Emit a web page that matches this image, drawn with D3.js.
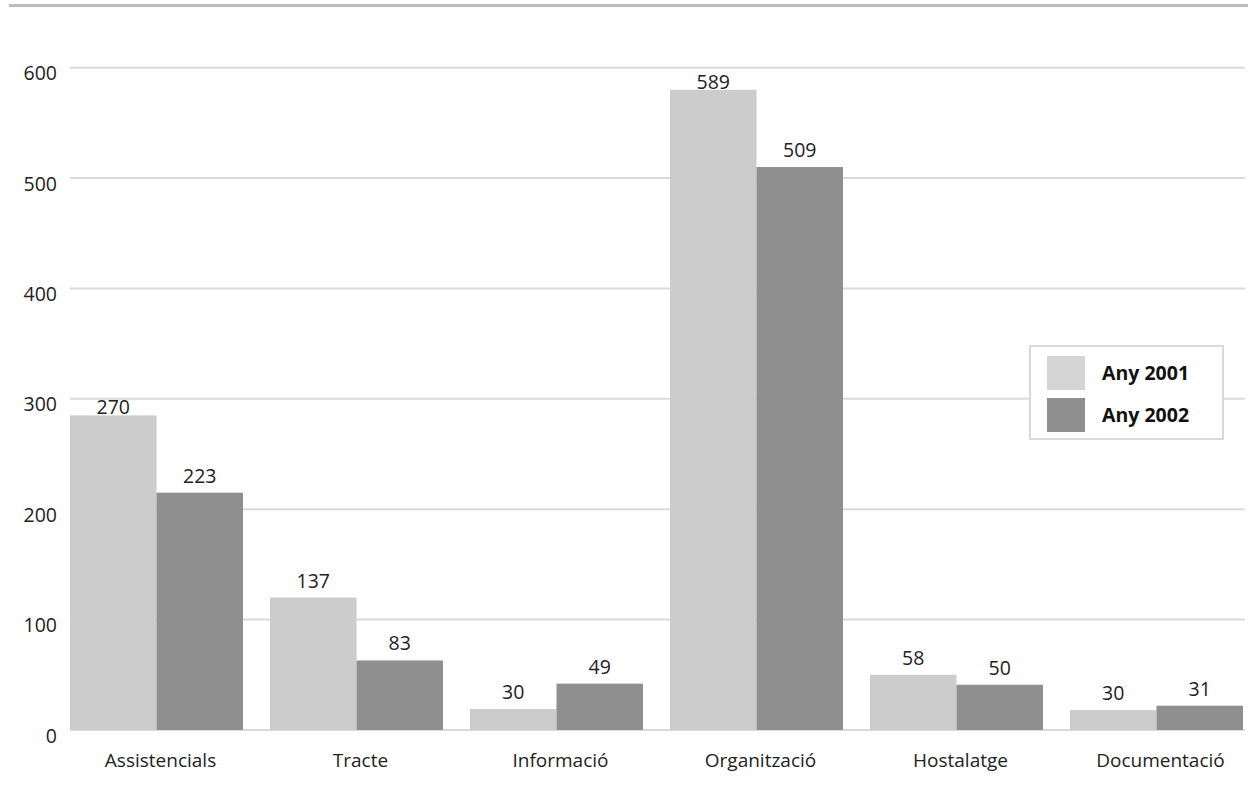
<!DOCTYPE html>
<html>
<head>
<meta charset="utf-8">
<script src="https://cdn.jsdelivr.net/npm/d3@7"></script>
<style>
  html, body { margin: 0; padding: 0; background: #fff; }
  svg { display: block; font-family: "Open Sans", "Noto Sans", sans-serif; }
</style>
</head>
<body>
<svg id="chart" width="1248" height="801"></svg>
<script>
// ---- data ----
const categories = ["Assistencials", "Tracte", "Informació", "Organització", "Hostalatge", "Documentació"];
const seriesNames = ["Any 2001", "Any 2002"];
// bar heights as drawn in the picture
const values2001 = [285, 120, 19, 580, 50, 18];
const values2002 = [215, 63, 42, 510, 41, 22];
// value labels printed above the bars
const labels2001 = ["270", "137", "30", "589", "58", "30"];
const labels2002 = ["223", "83", "49", "509", "50", "31"];
const yTicks = [0, 100, 200, 300, 400, 500, 600];

const colors = ["#cccccc", "#8f8f8f"];

const svg = d3.select("#chart");

const y = d3.scaleLinear().domain([0, 600]).range([730, 67.7]);
const x = d3.scaleBand().domain(categories).range([70, 1243]).paddingInner(0.135).paddingOuter(0);
const xs = d3.scaleBand().domain(seriesNames).range([0, x.bandwidth()]);

// top rule
svg.append("rect").attr("x", 9).attr("y", 4).attr("width", 1239).attr("height", 3).attr("fill", "#bdbdbd");

// gridlines
svg.append("g").selectAll("line").data(yTicks).join("line")
  .attr("x1", 70).attr("x2", 1245)
  .attr("y1", d => y(d)).attr("y2", d => y(d))
  .attr("stroke", "#dadada").attr("stroke-width", 2);

// y tick labels
svg.append("g").selectAll("text").data(yTicks).join("text")
  .attr("x", 57).attr("y", d => y(d) + 12.5)
  .attr("text-anchor", "end")
  .attr("font-size", 19.5).attr("fill", "#222")
  .text(d => d);

// bars
const rows = categories.map((c, i) => ({
  cat: c,
  vals: [
    { s: seriesNames[0], v: values2001[i], l: labels2001[i], c: colors[0] },
    { s: seriesNames[1], v: values2002[i], l: labels2002[i], c: colors[1] }
  ]
}));

const groups = svg.append("g").selectAll("g").data(rows).join("g")
  .attr("transform", d => `translate(${x(d.cat)},0)`);

groups.selectAll("rect").data(d => d.vals).join("rect")
  .attr("x", d => xs(d.s))
  .attr("y", d => y(d.v))
  .attr("width", xs.bandwidth())
  .attr("height", d => y(0) - y(d.v))
  .attr("fill", d => d.c);

groups.selectAll("text").data(d => d.vals).join("text")
  .attr("x", d => xs(d.s) + xs.bandwidth() / 2)
  .attr("y", d => y(d.v) - (d.v > 250 && d.s === seriesNames[0] ? 1 : 10))
  .attr("text-anchor", "middle")
  .attr("font-size", 19.5).attr("fill", "#222")
  .text(d => d.l);

// category labels
svg.append("g").selectAll("text").data(categories).join("text")
  .attr("x", d => x(d) + x.bandwidth() / 2 + 4)
  .attr("y", 767)
  .attr("text-anchor", "middle")
  .attr("font-size", 19).attr("fill", "#222")
  .text(d => d);

// legend
const lg = svg.append("g");
lg.append("rect").attr("x", 1030).attr("y", 346).attr("width", 193).attr("height", 93)
  .attr("fill", "#fff").attr("stroke", "#d9d9d9").attr("stroke-width", 2);
const items = lg.selectAll("g").data(seriesNames).join("g")
  .attr("transform", (d, i) => `translate(0,${356 + i * 42})`);
items.append("rect").attr("x", 1047).attr("y", 0).attr("width", 38).attr("height", 34)
  .attr("fill", (d, i) => i === 0 ? "#d4d4d4" : colors[1]);
items.append("text").attr("x", 1102).attr("y", 24)
  .attr("font-size", 19.5).attr("font-weight", "bold").attr("fill", "#111")
  .text(d => d);
</script>
</body>
</html>
